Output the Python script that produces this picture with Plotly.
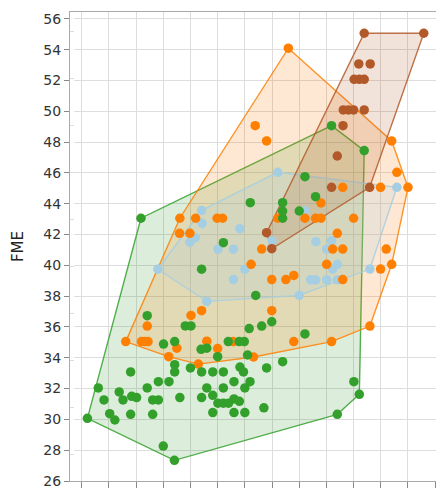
import plotly.graph_objects as go

# ---------------- data ----------------
green_x = [2.18, 6.20, 5.21, 9.19, 10.39, 8.21, 8.60, 7.39, 7.39, 7.39, 8.00, 4.41, 6.40, 2.41,
           3.81, 4.02, 6.16, 6.62, 6.99, 8.21, 3.01, 3.42, 4.39, 4.60, 5.00, 5.39, 5.79, 5.98,
           6.10, 3.42, 3.42, 4.00, 4.41, 4.82, 5.21, 5.82, 5.95, 1.80, 2.82, 3.21, 2.41, 0.61,
           1.38, 1.52, 1.84, 2.02, 2.61, 2.82, 3.61, 0.82, 4.41, 4.60, 4.82, 5.21, 5.60, 6.00,
           6.19, 5.01, 5.21, 5.40, 5.60, 5.80, 1.03, 1.22, 1.80, 2.61, 4.82, 5.60, 6.00, 0.21,
           3.00, 3.41, 6.80, 7.39, 6.70, 10.01, 10.21, 9.40]
green_y = [43.06, 44.07, 41.47, 49.07, 47.45, 45.76, 44.46, 44.07, 43.53, 43.06, 43.53, 39.75, 38.05, 36.73,
           36.07, 36.07, 35.90, 36.06, 36.34, 35.55, 34.89, 35.05, 34.55, 34.62, 34.07, 35.05, 35.05, 35.05,
           34.18, 33.55, 33.08, 33.34, 33.08, 33.08, 33.08, 33.40, 33.08, 33.08, 32.45, 32.45, 32.04, 32.04,
           31.78, 31.26, 31.50, 31.42, 31.26, 31.26, 31.42, 31.26, 31.42, 32.04, 31.56, 32.04, 32.45, 32.04,
           32.45, 31.05, 31.05, 31.05, 31.33, 31.17, 30.37, 29.96, 30.33, 30.33, 30.44, 30.44, 30.44, 30.07,
           28.27, 27.34, 33.34, 33.75, 30.75, 32.45, 31.63, 30.33]

orange_x = [7.60, 6.38, 6.80, 11.40, 11.59, 9.60, 10.99, 12.00, 8.80, 7.21, 8.21, 8.60, 8.80, 10.00,
            9.40, 6.62, 9.23, 9.60, 11.20, 6.23, 9.01, 10.99, 11.40, 6.99, 7.51, 7.80, 9.60, 6.99,
            10.60, 7.80, 9.19, 6.32, 3.61, 4.19, 4.98, 5.18, 3.60, 3.98, 4.41, 4.02, 2.41, 1.62,
            2.20, 2.32, 2.44, 3.20, 3.50, 4.29, 4.60, 5.00, 5.57]
orange_y = [54.10, 49.07, 48.08, 48.08, 46.04, 45.07, 45.07, 45.07, 44.05, 43.06, 43.06, 43.06, 43.06, 43.06,
            42.08, 41.06, 41.06, 41.06, 41.06, 40.07, 40.07, 39.76, 40.07, 39.08, 39.08, 39.35, 39.08, 37.06,
            36.06, 35.05, 35.05, 34.05, 43.06, 43.06, 43.06, 43.06, 42.08, 42.08, 37.06, 36.75, 36.06, 35.05,
            35.05, 35.05, 35.05, 34.07, 34.62, 33.59, 35.08, 34.60, 35.05]

lightblue_x = [4.41, 4.43, 4.18, 3.98, 5.82, 5.01, 5.58, 6.00, 5.58, 2.80, 4.60, 7.21, 8.21, 11.59,
               7.00, 8.61, 9.19, 9.01, 9.40, 9.23, 10.60, 8.42, 8.60, 9.01, 9.40, 8.00]
lightblue_y = [43.57, 42.73, 41.80, 41.50, 42.38, 41.05, 41.05, 39.75, 39.08, 39.75, 37.66, 46.04, 43.54, 45.07,
               41.60, 41.54, 41.60, 41.05, 40.07, 39.76, 39.76, 39.06, 39.06, 39.06, 39.06, 38.05]

brown_x = [10.39, 12.58, 10.19, 10.61, 10.02, 10.21, 10.39, 9.62, 9.81, 10.00, 10.39, 9.61, 9.40,
           9.19, 10.59, 6.80, 6.99]
brown_y = [55.07, 55.07, 53.08, 53.08, 52.08, 52.08, 52.08, 50.09, 50.09, 50.09, 50.09, 49.07, 47.10,
           45.07, 45.07, 42.12, 41.08]

y_ticks = list(range(26, 57, 2))
y_title = "FME"

groups = [
    ("green", green_x, green_y, "#33a02c", "rgba(51,160,44,0.2)"),
    ("orange", orange_x, orange_y, "#ff7f00", "rgba(255,127,0,0.2)"),
    ("lightblue", lightblue_x, lightblue_y, "#a6cee3", "rgba(166,206,227,0.25)"),
    ("brown", brown_x, brown_y, "#b15928", "rgba(177,89,40,0.2)"),
]


def convex_hull(xs, ys):
    pts = sorted(set(zip(xs, ys)))
    if len(pts) < 3:
        return pts

    def cross(o, a, b):
        return (a[0] - o[0]) * (b[1] - o[1]) - (a[1] - o[1]) * (b[0] - o[0])

    lower = []
    for p in pts:
        while len(lower) >= 2 and cross(lower[-2], lower[-1], p) <= 0:
            lower.pop()
        lower.append(p)
    upper = []
    for p in reversed(pts):
        while len(upper) >= 2 and cross(upper[-2], upper[-1], p) <= 0:
            upper.pop()
        upper.append(p)
    return lower[:-1] + upper[:-1]


fig = go.Figure()

# hulls
for name, xs, ys, col, fillc in groups:
    h = convex_hull(xs, ys)
    hx = [p[0] for p in h] + [h[0][0]]
    hy = [p[1] for p in h] + [h[0][1]]
    fig.add_trace(go.Scatter(x=hx, y=hy, mode="lines", fill="toself", fillcolor=fillc,
                             line=dict(color=col, width=1.4), opacity=0.85,
                             hoverinfo="skip", showlegend=False))

# points
for name in ["lightblue", "orange", "green", "brown"]:
    for gname, xs, ys, col, fillc in groups:
        if gname == name:
            fig.add_trace(go.Scatter(x=xs, y=ys, mode="markers", name=gname,
                                     marker=dict(color=col, size=9.5, line=dict(width=0)),
                                     showlegend=False))

# neighbouring panel stub on the far left (only its right edge is visible)
fig.add_trace(go.Scatter(x=[None], y=[None], xaxis="x2", yaxis="y2", showlegend=False))

fig.update_layout(
    width=436, height=489,
    margin=dict(l=70, r=0, t=12, b=8),
    paper_bgcolor="white", plot_bgcolor="white",
    font=dict(family="DejaVu Sans", size=14, color="#333"),
    showlegend=False,
    xaxis=dict(domain=[0, 1], range=[-0.43, 13.03], tick0=0, dtick=1,
               showgrid=True, gridcolor="#dddddd", gridwidth=1, zeroline=False,
               showline=True, linecolor="#aaaaaa", mirror=True,
               ticks="outside", ticklen=6, tickcolor="#888888", showticklabels=False),
    yaxis=dict(range=[26, 56.45], tickvals=y_ticks,
               showgrid=True, gridcolor="#dddddd", gridwidth=1, zeroline=False,
               showline=True, linecolor="#aaaaaa", mirror=True,
               ticks="outside", ticklen=5, tickcolor="#888888",
               tickfont=dict(family="DejaVu Sans", size=14, color="#333"),
               title=dict(text=y_title, standoff=16,
                          font=dict(family="DejaVu Sans", size=15, color="#222"))),
    xaxis2=dict(domain=[-0.0, 0.0115], anchor="y2", range=[0, 1], showgrid=False,
                zeroline=False, showline=True, linecolor="#aaaaaa", mirror=True,
                showticklabels=False, ticks=""),
    yaxis2=dict(domain=[0, 1], anchor="x2", range=[-0.574, 9.426], dtick=1,
                showgrid=True, gridcolor="#dddddd", zeroline=False,
                showline=False, showticklabels=False, ticks=""),
)

fig.write_html("out.html", config={"displayModeBar": False},
               post_script="document.body.style.margin='0';document.body.style.overflow='hidden';")
